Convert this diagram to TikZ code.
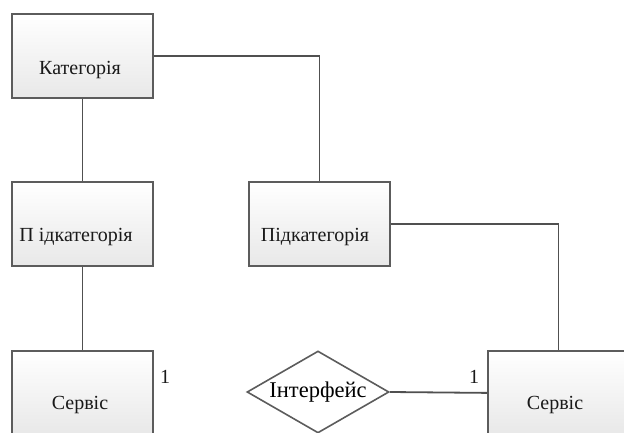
\documentclass[tikz,border=0pt]{standalone}
\usepackage{fontspec}
\setmainfont{Liberation Serif}
\usetikzlibrary{shapes.geometric,shadows}
\definecolor{edgegray}{HTML}{5C5C5C}
\definecolor{linegray}{HTML}{505050}
\tikzset{
  entity/.style={draw=edgegray, line width=1.8pt, rectangle,
    top color=white, bottom color=black!9, minimum width=141pt, minimum height=84pt,
    inner sep=0pt, anchor=north west,
    drop shadow={shadow xshift=0.8pt, shadow yshift=-0.8pt, opacity=0.25, fill=black!40}},
  rel/.style={draw=edgegray, line width=1.6pt, diamond, fill=white, aspect=1.73,
    minimum width=142pt, minimum height=82pt, inner sep=0pt,
    font=\fontsize{22.5}{24}\selectfont},
  lbl/.style={font=\fontsize{20}{22}\selectfont, inner sep=0pt, text=black!90},
  conn/.style={draw=linegray, line width=1.8pt},
}
\begin{document}
\begin{tikzpicture}[x=1pt,y=-1pt]
\useasboundingbox (0,0) rectangle (624,433);
\clip (0,0) rectangle (624,433);
\node[entity] (kat) at (11,13) {};
\node[entity] (pk1) at (11,181) {};
\node[entity] (pk2) at (248,181) {};
\node[entity] (s1) at (11,350) {};
\node[entity] (s2) at (487,350) {};
\node[rel] (int) at (318,392) {Інтерфейс};

\draw[conn] (kat.south) -- (pk1.north);
\draw[conn] (kat.east) -| (pk2.north);
\draw[conn] (pk1.south) -- (s1.north);
\draw[conn] (pk2.east) -| (s2.north);
\draw[conn] (int.east) -- (s2.west);

\node[lbl] (tkat) at (80,70) {Категорія};
\node[lbl] (tpk1) at (76,237) {П ідкатегорія};
\node[lbl] (tpk2) at (315,237) {Підкатегорія};
\node[lbl] (ts1) at (80,405) {Сервіс};
\node[lbl] (ts2) at (555,405) {Сервіс};
\node[lbl] (one1) at (165,377) {1};
\node[lbl] (one2) at (474,377) {1};
\end{tikzpicture}
\end{document}
